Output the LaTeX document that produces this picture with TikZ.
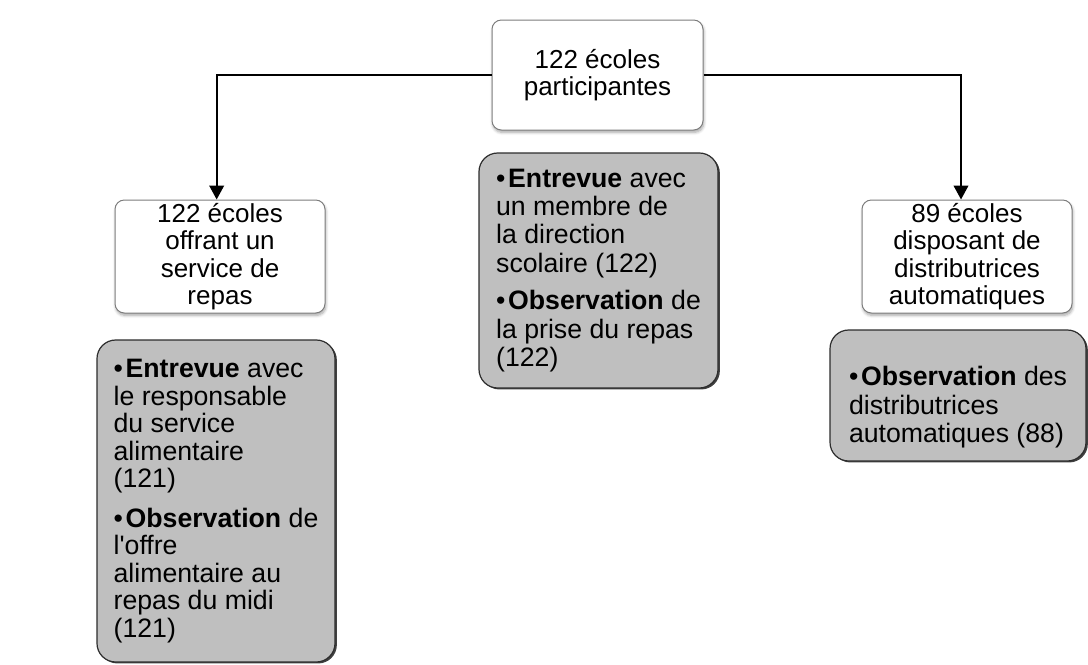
\documentclass[tikz,border=0pt]{standalone}
\usepackage{fontspec}
\setmainfont{Liberation Sans}
\usetikzlibrary{arrows.meta,shadows,shadows.blur}
\definecolor{taskgray}{RGB}{191,191,191}
\definecolor{unitline}{RGB}{125,125,125}
\definecolor{taskline}{RGB}{45,45,45}
\newcommand{\taskitem}[1]{\textbullet\hspace{2pt}\textbf{#1}}

\begin{document}
\begin{tikzpicture}[x=0.75pt,y=-0.75pt,
    every node/.style={font=\fontsize{19.5}{20.5}\selectfont},
    unitbox/.style={draw=unitline,fill=white,line width=0.75pt,rounded corners=7pt,
      align=center,inner sep=1pt,minimum width=157.5pt,minimum height=84.75pt,
      blur shadow={shadow xshift=0.6pt,shadow yshift=-1.8pt,shadow blur steps=6,shadow opacity=35}},
    taskbox/.style={draw=taskline,fill=taskgray,line width=0.9pt,rounded corners=14pt,
      align=left,inner sep=1pt,font=\fontsize{20}{21.2}\selectfont,
      drop shadow={shadow xshift=1.4pt,shadow yshift=-1.1pt,opacity=0.75,fill=black}},
    link/.style={line width=1.5pt,-{Triangle[length=10.5pt,width=11pt]}}]
  \useasboundingbox (0,0) rectangle (1088,664);
  % units
  \node[unitbox,minimum width=158.25pt,minimum height=82.5pt] (all) at (597.5,75) {122 écoles\\participantes};
  \node[unitbox] (meals) at (220,256.5) {122 écoles\\offrant un\\service de\\repas};
  \node[unitbox] (vending) at (967,256.5) {89 écoles\\disposant de\\distributrices\\automatiques};
  % data collection
  \node[taskbox,font=\fontsize{20}{20.6}\selectfont,minimum width=178.5pt,minimum height=241.5pt] (mealtasks) at (216,501)
    {\taskitem{Entrevue} avec\\le responsable\\du service\\alimentaire\\(121)\\[9pt]
     \taskitem{Observation} de\\l\textquotesingle offre\\alimentaire au\\repas du midi\\(121)};
  \node[taskbox,minimum width=179.25pt,minimum height=176.25pt] (schooltasks) at (598.5,270.5)
    {\taskitem{Entrevue} avec\\un membre de\\la direction\\scolaire (122)\\[7pt]
     \taskitem{Observation} de\\la prise du repas\\(122)};
  \node[taskbox,minimum width=192pt,minimum height=98.25pt] (vendtasks) at (958,395.5)
    {\rule{0pt}{32pt}\taskitem{Observation} des\\distributrices\\automatiques (88)};
  % links
  \draw[link] (all.west) -| ([xshift=-2.5pt]meals.north);
  \draw[link] (all.east) -| ([xshift=-4.5pt]vending.north);
\end{tikzpicture}
\end{document}
